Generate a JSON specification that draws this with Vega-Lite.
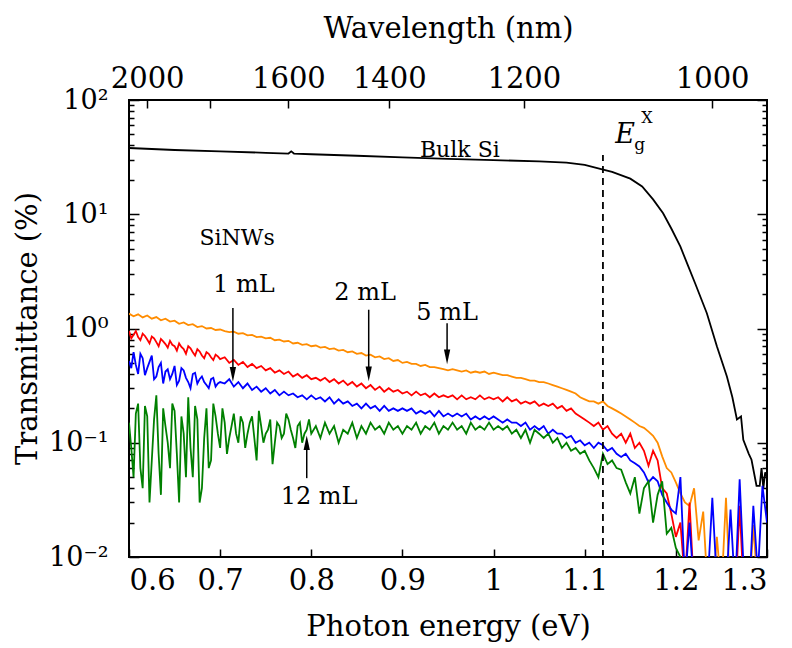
{
  "$schema": "https://vega.github.io/schema/vega-lite/v6.json",
  "width": 638,
  "height": 457,
  "autosize": "none",
  "padding": {"left": 129, "top": 100, "right": 25, "bottom": 91},
  "config": {
    "view": {"stroke": "black", "strokeWidth": 2},
    "font": "DejaVu Serif, serif",
    "text": {"font": "DejaVu Serif, serif"},
    "axis": {"grid": false, "domain": false, "tickColor": "black", "tickWidth": 1.5, "labelFont": "DejaVu Serif, serif", "titleFont": "DejaVu Serif, serif", "labelFontSize": 29, "titleFontSize": 29, "titleFontWeight": "normal", "labelColor": "black", "titleColor": "black"}
  },
  "datasets": {
    "nw": [
      {"x":0.600,"o":1.35,"r":0.95,"b":0.52,"g":0.15},
      {"x":0.605,"o":1.28,"r":0.88,"b":0.62,"g":0.05},
      {"x":0.610,"o":1.33,"r":0.84,"b":0.40,"g":0.22},
      {"x":0.615,"o":1.25,"r":0.90,"b":0.55,"g":0.04},
      {"x":0.620,"o":1.30,"r":0.80,"b":0.45,"g":0.17},
      {"x":0.625,"o":1.22,"r":0.85,"b":0.58,"g":0.07},
      {"x":0.630,"o":1.26,"r":0.76,"b":0.38,"g":0.26},
      {"x":0.635,"o":1.18,"r":0.81,"b":0.50,"g":0.035},
      {"x":0.640,"o":1.22,"r":0.73,"b":0.42,"g":0.14},
      {"x":0.645,"o":1.15,"r":0.78,"b":0.36,"g":0.06},
      {"x":0.650,"o":1.17,"r":0.70,"b":0.47,"g":0.19},
      {"x":0.655,"o":1.10,"r":0.74,"b":0.35,"g":0.03},
      {"x":0.660,"o":1.13,"r":0.66,"b":0.43,"g":0.12},
      {"x":0.665,"o":1.07,"r":0.70,"b":0.34,"g":0.25},
      {"x":0.670,"o":1.09,"r":0.62,"b":0.40,"g":0.05},
      {"x":0.675,"o":1.03,"r":0.66,"b":0.33,"g":0.16},
      {"x":0.680,"o":1.05,"r":0.58,"b":0.38,"g":0.04},
      {"x":0.685,"o":1.00,"r":0.62,"b":0.32,"g":0.20},
      {"x":0.690,"o":1.01,"r":0.56,"b":0.36,"g":0.07},
      {"x":0.695,"o":0.97,"r":0.59,"b":0.31,"g":0.17},
      {"x":0.700,"o":0.98,"r":0.54,"b":0.34,"g":0.09},
      {"x":0.705,"o":0.95,"r":0.56,"b":0.33,"g":0.15},
      {"x":0.710,"o":0.93,"r":0.50,"b":0.36,"g":0.11},
      {"x":0.715,"o":0.94,"r":0.53,"b":0.31,"g":0.18},
      {"x":0.720,"o":0.90,"r":0.48,"b":0.34,"g":0.10},
      {"x":0.725,"o":0.91,"r":0.51,"b":0.30,"g":0.15},
      {"x":0.730,"o":0.87,"r":0.46,"b":0.33,"g":0.12},
      {"x":0.735,"o":0.88,"r":0.49,"b":0.29,"g":0.17},
      {"x":0.740,"o":0.84,"r":0.45,"b":0.31,"g":0.07},
      {"x":0.745,"o":0.85,"r":0.47,"b":0.28,"g":0.14},
      {"x":0.750,"o":0.82,"r":0.43,"b":0.30,"g":0.12},
      {"x":0.755,"o":0.83,"r":0.45,"b":0.27,"g":0.16},
      {"x":0.760,"o":0.79,"r":0.41,"b":0.29,"g":0.10},
      {"x":0.765,"o":0.80,"r":0.43,"b":0.26,"g":0.14},
      {"x":0.770,"o":0.77,"r":0.40,"b":0.28,"g":0.12},
      {"x":0.775,"o":0.78,"r":0.42,"b":0.26,"g":0.16},
      {"x":0.780,"o":0.74,"r":0.38,"b":0.27,"g":0.11},
      {"x":0.785,"o":0.75,"r":0.40,"b":0.25,"g":0.14},
      {"x":0.790,"o":0.72,"r":0.37,"b":0.26,"g":0.10},
      {"x":0.795,"o":0.73,"r":0.39,"b":0.24,"g":0.13},
      {"x":0.800,"o":0.70,"r":0.36,"b":0.26,"g":0.12},
      {"x":0.805,"o":0.71,"r":0.37,"b":0.24,"g":0.14},
      {"x":0.810,"o":0.68,"r":0.35,"b":0.25,"g":0.11},
      {"x":0.815,"o":0.69,"r":0.37,"b":0.23,"g":0.15},
      {"x":0.820,"o":0.66,"r":0.34,"b":0.25,"g":0.12},
      {"x":0.825,"o":0.67,"r":0.36,"b":0.22,"g":0.14},
      {"x":0.830,"o":0.64,"r":0.33,"b":0.24,"g":0.10},
      {"x":0.835,"o":0.65,"r":0.35,"b":0.22,"g":0.13},
      {"x":0.840,"o":0.62,"r":0.32,"b":0.23,"g":0.12},
      {"x":0.845,"o":0.63,"r":0.34,"b":0.21,"g":0.15},
      {"x":0.850,"o":0.60,"r":0.31,"b":0.22,"g":0.11},
      {"x":0.855,"o":0.61,"r":0.33,"b":0.20,"g":0.14},
      {"x":0.860,"o":0.58,"r":0.30,"b":0.22,"g":0.12},
      {"x":0.865,"o":0.59,"r":0.32,"b":0.20,"g":0.15},
      {"x":0.870,"o":0.56,"r":0.29,"b":0.21,"g":0.13},
      {"x":0.875,"o":0.57,"r":0.31,"b":0.19,"g":0.14},
      {"x":0.880,"o":0.54,"r":0.28,"b":0.21,"g":0.12},
      {"x":0.885,"o":0.55,"r":0.30,"b":0.19,"g":0.15},
      {"x":0.890,"o":0.52,"r":0.28,"b":0.20,"g":0.13},
      {"x":0.895,"o":0.53,"r":0.29,"b":0.19,"g":0.14},
      {"x":0.900,"o":0.50,"r":0.27,"b":0.20,"g":0.12},
      {"x":0.905,"o":0.51,"r":0.28,"b":0.19,"g":0.14},
      {"x":0.910,"o":0.49,"r":0.26,"b":0.20,"g":0.13},
      {"x":0.915,"o":0.49,"r":0.28,"b":0.18,"g":0.15},
      {"x":0.920,"o":0.47,"r":0.26,"b":0.19,"g":0.12},
      {"x":0.925,"o":0.48,"r":0.27,"b":0.18,"g":0.14},
      {"x":0.930,"o":0.46,"r":0.25,"b":0.19,"g":0.13},
      {"x":0.935,"o":0.46,"r":0.27,"b":0.17,"g":0.15},
      {"x":0.940,"o":0.45,"r":0.25,"b":0.19,"g":0.12},
      {"x":0.945,"o":0.44,"r":0.26,"b":0.17,"g":0.14},
      {"x":0.950,"o":0.43,"r":0.25,"b":0.18,"g":0.13},
      {"x":0.955,"o":0.44,"r":0.26,"b":0.17,"g":0.15},
      {"x":0.960,"o":0.43,"r":0.24,"b":0.18,"g":0.13},
      {"x":0.965,"o":0.42,"r":0.26,"b":0.17,"g":0.14},
      {"x":0.970,"o":0.43,"r":0.24,"b":0.18,"g":0.12},
      {"x":0.975,"o":0.41,"r":0.25,"b":0.16,"g":0.15},
      {"x":0.980,"o":0.42,"r":0.24,"b":0.17,"g":0.13},
      {"x":0.985,"o":0.41,"r":0.26,"b":0.16,"g":0.14},
      {"x":0.990,"o":0.42,"r":0.24,"b":0.17,"g":0.13},
      {"x":0.995,"o":0.40,"r":0.25,"b":0.16,"g":0.15},
      {"x":1.000,"o":0.41,"r":0.24,"b":0.17,"g":0.13},
      {"x":1.005,"o":0.40,"r":0.25,"b":0.16,"g":0.14},
      {"x":1.010,"o":0.39,"r":0.23,"b":0.15,"g":0.13},
      {"x":1.015,"o":0.39,"r":0.25,"b":0.16,"g":0.14},
      {"x":1.020,"o":0.38,"r":0.23,"b":0.15,"g":0.12},
      {"x":1.025,"o":0.37,"r":0.24,"b":0.15,"g":0.13},
      {"x":1.030,"o":0.37,"r":0.22,"b":0.14,"g":0.11},
      {"x":1.035,"o":0.36,"r":0.23,"b":0.15,"g":0.13},
      {"x":1.040,"o":0.35,"r":0.22,"b":0.13,"g":0.10},
      {"x":1.045,"o":0.35,"r":0.23,"b":0.14,"g":0.13},
      {"x":1.050,"o":0.34,"r":0.21,"b":0.13,"g":0.12},
      {"x":1.055,"o":0.34,"r":0.22,"b":0.14,"g":0.11},
      {"x":1.060,"o":0.33,"r":0.21,"b":0.12,"g":0.12},
      {"x":1.065,"o":0.32,"r":0.22,"b":0.13,"g":0.10},
      {"x":1.070,"o":0.31,"r":0.20,"b":0.12,"g":0.11},
      {"x":1.075,"o":0.30,"r":0.21,"b":0.12,"g":0.09},
      {"x":1.080,"o":0.29,"r":0.19,"b":0.11,"g":0.10},
      {"x":1.085,"o":0.28,"r":0.20,"b":0.115,"g":0.085},
      {"x":1.090,"o":0.27,"r":0.18,"b":0.10,"g":0.09},
      {"x":1.095,"o":0.25,"r":0.17,"b":0.105,"g":0.08},
      {"x":1.100,"o":0.24,"r":0.16,"b":0.095,"g":0.085},
      {"x":1.105,"o":0.23,"r":0.15,"b":0.10,"g":0.07},
      {"x":1.110,"o":0.23,"r":0.14,"b":0.09,"g":0.06},
      {"x":1.115,"o":0.22,"r":0.15,"b":0.10,"g":0.05},
      {"x":1.120,"o":0.23,"r":0.13,"b":0.095,"g":0.08},
      {"x":1.125,"o":0.21,"r":0.14,"b":0.085,"g":0.065},
      {"x":1.130,"o":0.20,"r":0.12,"b":0.09,"g":0.07},
      {"x":1.135,"o":0.19,"r":0.11,"b":0.08,"g":0.06},
      {"x":1.140,"o":0.18,"r":0.12,"b":0.075,"g":0.058},
      {"x":1.145,"o":0.17,"r":0.10,"b":0.08,"g":0.045},
      {"x":1.150,"o":0.16,"r":0.12,"b":0.07,"g":0.036},
      {"x":1.155,"o":0.15,"r":0.09,"b":0.066,"g":0.05},
      {"x":1.160,"o":0.14,"r":0.10,"b":0.062,"g":0.024},
      {"x":1.165,"o":0.135,"r":0.085,"b":0.055,"g":0.04},
      {"x":1.170,"o":0.125,"r":0.063,"b":0.045,"g":0.046},
      {"x":1.175,"o":0.115,"r":0.085,"b":0.05,"g":0.02},
      {"x":1.180,"o":0.10,"r":0.07,"b":0.046,"g":0.035},
      {"x":1.185,"o":0.076,"r":0.04,"b":0.035,"g":0.046},
      {"x":1.190,"o":0.060,"r":0.036,"b":0.03,"g":0.016},
      {"x":1.195,"o":0.055,"r":0.024,"b":0.026,"g":0.018},
      {"x":1.200,"o":0.045,"r":0.015,"b":0.024,"g":0.012},
      {"x":1.205,"o":0.036,"r":0.02,"b":0.05,"g":0.01},
      {"x":1.210,"o":0.03,"r":0.006,"b":0.006,"g":0.006},
      {"x":1.215,"o":0.028,"r":0.03,"b":0.02,"g":0.005},
      {"x":1.220,"o":0.04,"r":0.005,"b":0.005,"g":0.004},
      {"x":1.225,"o":0.014,"r":0.004,"b":0.004,"g":0.004},
      {"x":1.230,"o":0.025,"r":0.004,"b":0.004,"g":0.004},
      {"x":1.235,"o":0.005,"r":0.004,"b":0.006,"g":0.004},
      {"x":1.240,"o":0.004,"r":0.004,"b":0.033,"g":0.004},
      {"x":1.245,"o":0.015,"r":0.004,"b":0.006,"g":0.004},
      {"x":1.250,"o":0.005,"r":0.004,"b":0.004,"g":0.004},
      {"x":1.255,"o":0.033,"r":0.004,"b":0.005,"g":0.004},
      {"x":1.260,"o":0.004,"r":0.004,"b":0.026,"g":0.004},
      {"x":1.265,"o":0.003,"r":0.004,"b":0.005,"g":0.004},
      {"x":1.270,"o":0.003,"r":0.028,"b":0.048,"g":0.004},
      {"x":1.275,"o":0.003,"r":0.004,"b":0.006,"g":0.004},
      {"x":1.280,"o":0.004,"r":0.004,"b":0.004,"g":0.004},
      {"x":1.285,"o":0.019,"r":0.004,"b":0.028,"g":0.004},
      {"x":1.290,"o":0.005,"r":0.004,"b":0.007,"g":0.004},
      {"x":1.295,"o":0.003,"r":0.004,"b":0.042,"g":0.004},
      {"x":1.300,"o":0.003,"r":0.004,"b":0.02,"g":0.004},
      {"x":0.6025,"r":0.82,"b":0.45,"g":0.09},
      {"x":0.6075,"r":0.95,"b":0.48,"g":0.18},
      {"x":0.6125,"r":0.79,"b":0.60,"g":0.06},
      {"x":0.6175,"r":0.86,"b":0.39,"g":0.21},
      {"x":0.6225,"r":0.74,"b":0.51,"g":0.03},
      {"x":0.6275,"r":0.82,"b":0.36,"g":0.16},
      {"x":0.6325,"r":0.70,"b":0.46,"g":0.08},
      {"x":0.6375,"r":0.77,"b":0.33,"g":0.20},
      {"x":0.6425,"r":0.68,"b":0.44,"g":0.10},
      {"x":0.6475,"r":0.72,"b":0.40,"g":0.22},
      {"x":0.6525,"r":0.64,"b":0.32,"g":0.08},
      {"x":0.6575,"r":0.69,"b":0.45,"g":0.17},
      {"x":0.6625,"r":0.60,"b":0.37,"g":0.05},
      {"x":0.6675,"r":0.67,"b":0.30,"g":0.09},
      {"x":0.6725,"r":0.58,"b":0.41,"g":0.21},
      {"x":0.6775,"r":0.63,"b":0.36,"g":0.03},
      {"x":0.6825,"r":0.55,"b":0.34,"g":0.11},
      {"x":0.6875,"r":0.60,"b":0.30,"g":0.06},
      {"x":0.6925,"r":0.53,"b":0.37,"g":0.22},
      {"x":0.6975,"r":0.57,"b":0.33,"g":0.12},
      {"x":0.7025,"g":0.20},
      {"x":0.7075,"g":0.08},
      {"x":0.7125,"g":0.14},
      {"x":0.7175,"g":0.12},
      {"x":0.7225,"g":0.17},
      {"x":0.7275,"g":0.09},
      {"x":0.7325,"g":0.15},
      {"x":0.7375,"g":0.11},
      {"x":0.7425,"g":0.19},
      {"x":0.7475,"g":0.10},
      {"x":0.7525,"g":0.13},
      {"x":0.7575,"g":0.065},
      {"x":0.7625,"g":0.15},
      {"x":0.7675,"g":0.11},
      {"x":0.7725,"g":0.18},
      {"x":0.7775,"g":0.13},
      {"x":0.7825,"g":0.09},
      {"x":0.7875,"g":0.15},
      {"x":0.7925,"g":0.12},
      {"x":0.7975,"g":0.16}
    ],
    "bulk": [
      {"x":0.6,"y":38},{"x":0.65,"y":36.5},{"x":0.7,"y":35.5},{"x":0.75,"y":34.5},{"x":0.775,"y":34},{"x":0.778,"y":35.5},{"x":0.781,"y":34},
      {"x":0.8,"y":33.5},{"x":0.85,"y":32.5},{"x":0.9,"y":31.5},{"x":0.95,"y":30.5},{"x":1.0,"y":29.8},{"x":1.05,"y":29},{"x":1.08,"y":28.3},
      {"x":1.1,"y":27},{"x":1.117,"y":25},{"x":1.13,"y":23.5},{"x":1.15,"y":20.5},{"x":1.163,"y":17.5},{"x":1.175,"y":13.5},{"x":1.186,"y":10.2},
      {"x":1.195,"y":7.5},{"x":1.205,"y":5.2},{"x":1.213,"y":3.6},{"x":1.221,"y":2.5},{"x":1.234,"y":1.36},{"x":1.245,"y":0.70},{"x":1.256,"y":0.38},
      {"x":1.262,"y":0.25},{"x":1.267,"y":0.16},{"x":1.2715,"y":0.17},{"x":1.274,"y":0.106},{"x":1.28,"y":0.08},{"x":1.283,"y":0.071},{"x":1.2885,"y":0.042},
      {"x":1.292,"y":0.042},{"x":1.294,"y":0.06},{"x":1.296,"y":0.04},{"x":1.298,"y":0.055},{"x":1.3,"y":0.05}
    ],
    "labels": [
      {"x":0.963,"y":36.5,"t":"Bulk Si","s":22},
      {"x":0.7186,"y":6.2,"t":"SiNWs","s":22},
      {"x":0.726,"y":2.4,"t":"1 mL","s":24},
      {"x":0.859,"y":2.05,"t":"2 mL","s":24},
      {"x":0.949,"y":1.37,"t":"5 mL","s":24},
      {"x":0.8086,"y":0.0336,"t":"12 mL","s":24}
    ],
    "arrows": [
      {"x":0.714,"y1":1.51,"y2":0.397,"d":"down"},
      {"x":0.863,"y1":1.46,"y2":0.40,"d":"down"},
      {"x":0.949,"y1":1.11,"y2":0.565,"d":"down"},
      {"x":0.795,"y1":0.049,"y2":0.1,"d":"up"}
    ],
    "eg": [{"x":1.1335,"y":42.1}],
    "dash": [{"x":1.12,"lo":0.01,"hi":33}]
  },
  "layer": [
    {
      "data": {"name": "bulk"},
      "mark": {"type": "line", "color": "black", "strokeWidth": 1.8, "clip": true},
      "encoding": {
        "x": {"field": "x", "type": "quantitative", "scale": {"domain": [0.6, 1.3], "nice": false, "zero": false},
          "axis": {"orient": "bottom", "values": [0.6,0.7,0.8,0.9,1.0,1.1,1.2,1.3], "format": "~g", "tickSize": -8, "labelPadding": 17, "title": "Photon energy (eV)", "titleX": 319, "titleY": 69, "titleBaseline": "middle"}},
        "y": {"field": "y", "type": "quantitative", "scale": {"type": "log", "domain": [0.01, 100], "nice": false},
          "axis": {"orient": "left", "values": [0.01,0.1,1,10,100], "tickSize": -10, "labelPadding": 31, "labelFontSize": 27, "labelExpr": "datum.value >= 99 ? '10²' : datum.value >= 9.9 ? '10¹' : datum.value >= 0.99 ? '10⁰' : datum.value >= 0.099 ? '10⁻¹' : '10⁻²'", "title": "Transmittance (%)", "titleX": -102, "titleY": 228, "titleAngle": -90, "titleBaseline": "middle", "titleAlign": "center"}}
      }
    },
    {
      "data": {"name": "nw"},
      "transform": [{"fold": ["o","r","b","g"], "as": ["k","v"]}, {"filter": "isValid(datum.v)"}],
      "mark": {"type": "line", "strokeWidth": 1.8, "clip": true},
      "encoding": {
        "x": {"field": "x", "type": "quantitative", "scale": {"domain": [0.6, 1.3], "nice": false, "zero": false},
          "axis": {"orient": "top", "values": [0.61992,0.6888,0.7749,0.8856,1.0332,1.23984], "tickSize": -8, "labelPadding": 15, "labelExpr": "datum.value > 0.68 && datum.value < 0.7 ? '' : format(1239.84 / datum.value, '.0f')", "title": "Wavelength (nm)", "titleX": 319, "titleY": -72, "titleBaseline": "middle"}},
        "y": {"field": "v", "type": "quantitative", "scale": {"type": "log", "domain": [0.01, 100], "nice": false},
          "axis": {"orient": "right", "values": [0.01,0.1,1,10,100], "tickSize": -10, "labels": false, "title": null}},
        "color": {"field": "k", "type": "nominal", "scale": {"domain": ["o","r","b","g"], "range": ["#FF8C00","#FF0000","#0000FF","#008000"]}, "legend": null},
        "detail": {"field": "k"}
      }
    },
    {
      "data": {"name": "dash"},
      "mark": {"type": "rule", "color": "black", "strokeWidth": 1.8, "strokeDash": [7, 5]},
      "encoding": {
        "x": {"field": "x", "type": "quantitative", "axis": null},
        "y": {"field": "lo", "type": "quantitative",
          "axis": {"orient": "left", "values": [0.02,0.03,0.04,0.05,0.06,0.07,0.08,0.09,0.2,0.3,0.4,0.5,0.6,0.7,0.8,0.9,2,3,4,5,6,7,8,9,20,30,40,50,60,70,80,90], "tickSize": -5, "labels": false, "title": null}},
        "y2": {"field": "hi"}
      }
    },
    {
      "data": {"name": "labels"},
      "mark": {"type": "text", "font": "DejaVu Serif, serif", "color": "black", "align": "center", "baseline": "middle"},
      "encoding": {
        "x": {"field": "x", "type": "quantitative", "axis": null},
        "y": {"field": "y", "type": "quantitative",
          "axis": {"orient": "right", "values": [0.02,0.03,0.04,0.05,0.06,0.07,0.08,0.09,0.2,0.3,0.4,0.5,0.6,0.7,0.8,0.9,2,3,4,5,6,7,8,9,20,30,40,50,60,70,80,90], "tickSize": -5, "labels": false, "title": null}},
        "text": {"field": "t"},
        "size": {"field": "s", "type": "quantitative", "scale": null}
      }
    },
    {
      "data": {"name": "arrows"},
      "mark": {"type": "rule", "color": "black", "strokeWidth": 1.5},
      "encoding": {
        "x": {"field": "x", "type": "quantitative", "axis": null},
        "y": {"field": "y1", "type": "quantitative", "axis": null},
        "y2": {"field": "y2"}
      }
    },
    {
      "data": {"name": "arrows"},
      "mark": {"type": "point", "filled": true, "color": "black", "opacity": 1, "size": 110},
      "encoding": {
        "x": {"field": "x", "type": "quantitative", "axis": null},
        "y": {"field": "y2", "type": "quantitative", "axis": null},
        "shape": {"field": "d", "type": "nominal", "scale": {"domain": ["down","up"], "range": ["M-0.6,-1.4L0.6,-1.4L0,1.4Z","M-0.6,1.4L0.6,1.4L0,-1.4Z"]}, "legend": null}
      }
    },
    {
      "data": {"name": "eg"},
      "mark": {"type": "text", "text": "E", "font": "DejaVu Serif, serif", "fontStyle": "italic", "fontSize": 27, "align": "left", "baseline": "alphabetic", "color": "black"},
      "encoding": {"x": {"field": "x", "type": "quantitative", "axis": null}, "y": {"field": "y", "type": "quantitative", "axis": null}}
    },
    {
      "data": {"name": "eg"},
      "mark": {"type": "text", "text": "g", "font": "DejaVu Serif, serif", "fontSize": 17, "align": "left", "baseline": "alphabetic", "color": "black", "dx": 19, "dy": 7},
      "encoding": {"x": {"field": "x", "type": "quantitative", "axis": null}, "y": {"field": "y", "type": "quantitative", "axis": null}}
    },
    {
      "data": {"name": "eg"},
      "mark": {"type": "text", "text": "X", "font": "DejaVu Serif, serif", "fontSize": 16, "align": "left", "baseline": "alphabetic", "color": "black", "dx": 26, "dy": -20},
      "encoding": {"x": {"field": "x", "type": "quantitative", "axis": null}, "y": {"field": "y", "type": "quantitative", "axis": null}}
    }
  ],
  "resolve": {"axis": {"x": "independent", "y": "independent"}}
}
